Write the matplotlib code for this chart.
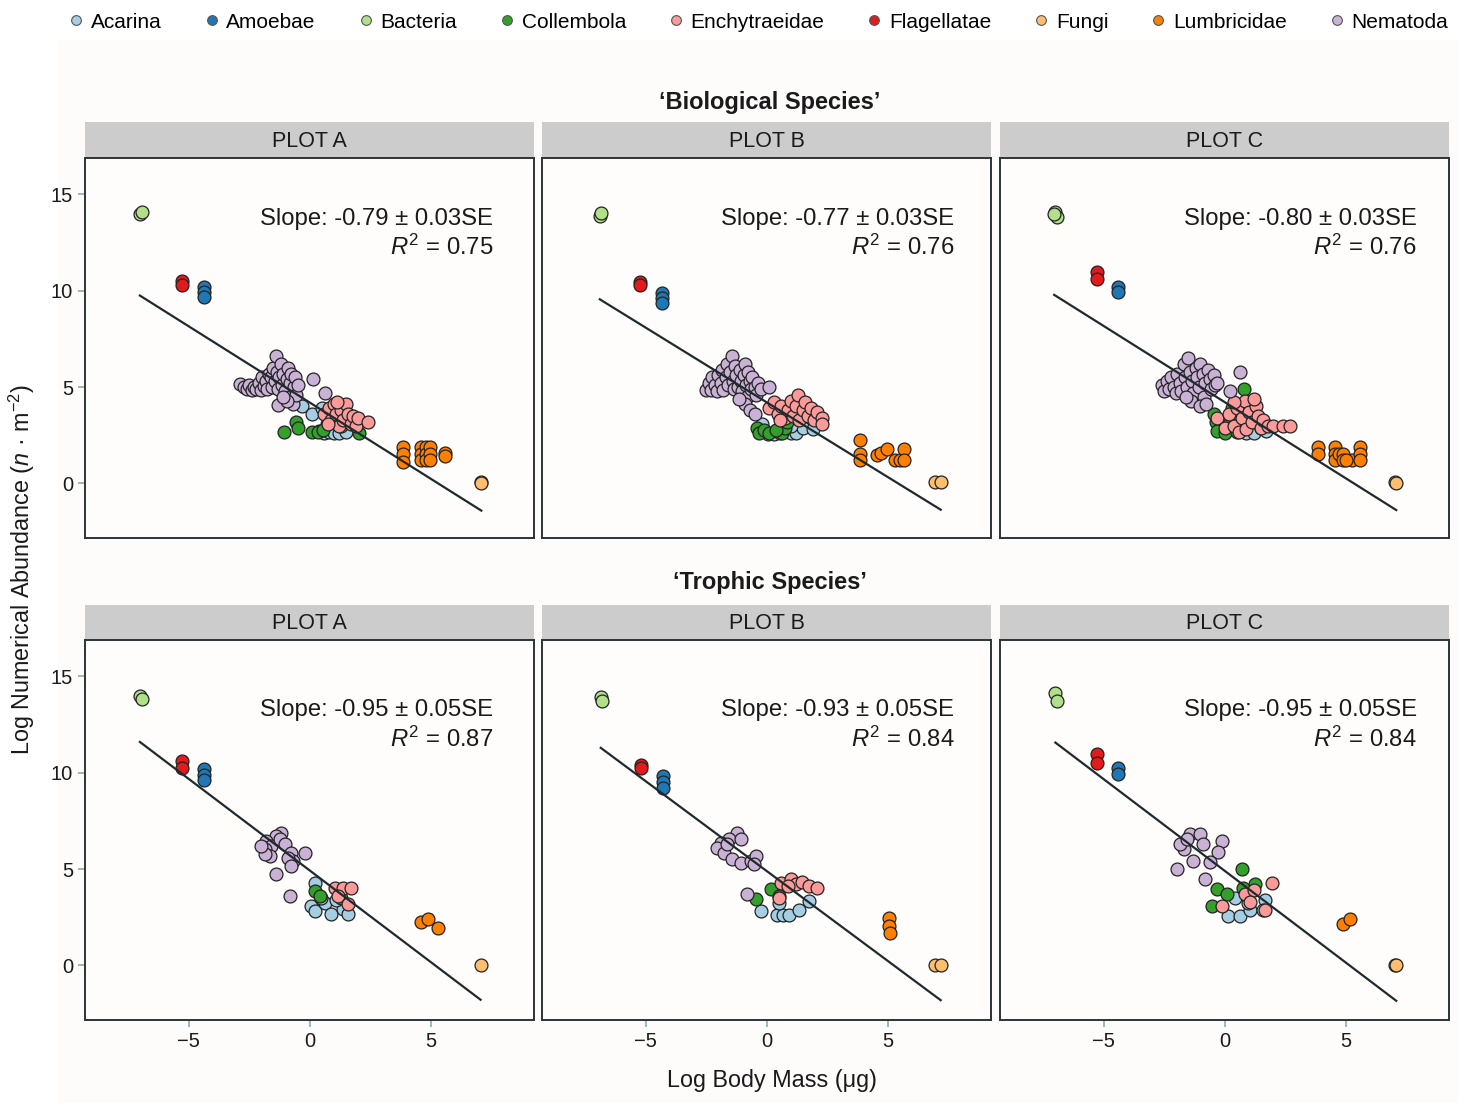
import matplotlib.pyplot as plt
from matplotlib.lines import Line2D
from matplotlib.patches import Rectangle

plt.rcParams['font.family'] = ['Liberation Sans', 'DejaVu Sans']
plt.rcParams['mathtext.fontset'] = 'custom'
plt.rcParams['mathtext.rm'] = 'Liberation Sans'
plt.rcParams['mathtext.it'] = 'Liberation Sans:italic'

groups = ["Acarina", "Amoebae", "Bacteria", "Collembola", "Enchytraeidae",
          "Flagellatae", "Fungi", "Lumbricidae", "Nematoda"]
colors = ["#A6CEE3", "#1F78B4", "#B2DF8A", "#33A02C", "#FB9A99",
          "#E31A1C", "#FDBF6F", "#FF7F00", "#CAB2D6"]
plot_names = ["PLOT A", "PLOT B", "PLOT C"]
row_titles = ["\u2018Biological Species\u2019", "\u2018Trophic Species\u2019"]

# ---- data (log body mass, log abundance) ----
bio_a = {
    "Acarina": [(-0.3, 4.0), (0.1, 3.6), (0.4, 2.7), (0.6, 2.6), (0.8, 2.65), (1.0, 2.6),
                (1.2, 2.6), (1.5, 2.65), (0.9, 3.2), (1.3, 3.0), (0.5, 3.9)],
    "Amoebae": [(-4.37, 10.2), (-4.37, 9.93), (-4.37, 9.65)],
    "Bacteria": [(-7.02, 13.97), (-6.95, 14.08)],
    "Collembola": [(-1.05, 2.65), (-0.55, 3.2), (-0.5, 2.9), (0.1, 2.65), (0.35, 2.65),
                   (0.7, 3.1), (2.05, 2.6), (0.55, 2.75)],
    "Enchytraeidae": [(0.6, 3.6), (0.8, 3.9), (0.9, 3.3), (1.0, 4.1), (1.1, 3.6), (1.2, 3.0),
                      (1.3, 3.8), (1.4, 3.3), (1.5, 4.1), (1.6, 3.6), (1.7, 3.1), (1.8, 3.5),
                      (1.9, 3.0), (2.0, 3.4), (2.4, 3.2), (1.15, 4.2), (0.75, 3.1)],
    "Flagellatae": [(-5.28, 10.5), (-5.28, 10.3)],
    "Fungi": [(7.07, 0.05), (7.1, 0.0)],
    "Lumbricidae": [(3.86, 1.88), (3.86, 1.54), (3.86, 1.1), (4.6, 1.88), (4.6, 1.54), (4.6, 1.2),
                    (4.8, 1.88), (4.8, 1.54), (4.8, 1.2), (4.96, 1.88), (4.96, 1.54), (4.96, 1.2),
                    (5.58, 1.6), (5.58, 1.4)],
    "Nematoda": [(-2.9, 5.15), (-2.7, 5.0), (-2.6, 4.9), (-2.5, 5.1), (-2.4, 4.85), (-2.3, 5.0),
                 (-2.2, 4.9), (-2.1, 5.2), (-2.0, 4.85), (-1.95, 5.5), (-1.9, 5.05), (-1.8, 5.3),
                 (-1.75, 4.9), (-1.7, 5.7), (-1.6, 5.5), (-1.55, 5.0), (-1.5, 6.0), (-1.45, 5.3),
                 (-1.4, 6.6), (-1.35, 5.8), (-1.3, 4.9), (-1.25, 5.5), (-1.2, 6.2), (-1.15, 5.1),
                 (-1.1, 5.7), (-1.0, 4.8), (-0.95, 5.4), (-0.9, 6.0), (-0.85, 4.5), (-0.8, 5.2),
                 (-0.75, 5.7), (-0.7, 4.1), (-0.65, 5.0), (-0.6, 5.5), (-0.55, 4.6), (-0.5, 5.1),
                 (-1.3, 4.05), (-0.95, 4.3), (0.15, 5.4), (-1.1, 4.5), (0.65, 4.7)],
}
bio_b = {
    "Acarina": [(-0.2, 3.1), (0.05, 2.55), (0.3, 2.55), (0.55, 2.6), (1.0, 2.6), (1.2, 2.6),
                (1.5, 2.9), (1.9, 2.8), (1.0, 3.0)],
    "Amoebae": [(-4.31, 9.9), (-4.31, 9.6), (-4.31, 9.35)],
    "Bacteria": [(-6.9, 13.85), (-6.85, 14.05)],
    "Collembola": [(-0.4, 2.9), (-0.3, 2.6), (-0.1, 2.75), (0.1, 2.6), (0.65, 2.6), (0.75, 2.9),
                   (0.85, 3.2), (0.4, 2.75)],
    "Enchytraeidae": [(0.1, 3.9), (0.3, 4.2), (0.45, 3.6), (0.6, 4.0), (0.75, 3.4), (0.9, 3.8),
                      (1.0, 4.3), (1.1, 3.5), (1.2, 4.0), (1.3, 4.6), (1.35, 3.3), (1.5, 3.8),
                      (1.6, 4.2), (1.7, 3.5), (1.85, 3.9), (1.95, 3.3), (2.1, 3.7), (2.3, 3.4),
                      (2.3, 3.1), (0.55, 3.3)],
    "Flagellatae": [(-5.23, 10.45), (-5.23, 10.3)],
    "Fungi": [(6.95, 0.05), (7.2, 0.05)],
    "Lumbricidae": [(3.88, 2.23), (3.88, 1.55), (3.88, 1.19), (4.57, 1.45), (4.75, 1.6),
                    (4.99, 1.8), (5.33, 1.19), (5.5, 1.19), (5.67, 1.8), (5.67, 1.19)],
    "Nematoda": [(-2.5, 4.85), (-2.4, 5.2), (-2.3, 4.85), (-2.25, 5.5), (-2.15, 5.1), (-2.05, 4.8),
                 (-2.0, 5.6), (-1.9, 5.2), (-1.85, 5.9), (-1.8, 4.85), (-1.7, 5.5), (-1.65, 6.2),
                 (-1.6, 5.1), (-1.5, 5.8), (-1.45, 6.6), (-1.4, 5.3), (-1.35, 4.9), (-1.3, 6.1),
                 (-1.25, 5.6), (-1.2, 5.0), (-1.1, 5.9), (-1.05, 5.3), (-1.0, 4.8), (-0.95, 5.6),
                 (-0.9, 6.2), (-0.85, 5.1), (-0.8, 4.5), (-0.75, 5.8), (-0.7, 5.3), (-0.65, 4.9),
                 (-0.6, 5.5), (-0.5, 5.0), (-0.45, 4.6), (-0.35, 5.2), (-0.25, 4.9), (0.1, 5.0),
                 (-0.9, 4.1), (-0.7, 3.8), (-0.5, 3.6), (-1.15, 4.4)],
}
bio_c = {
    "Acarina": [(0.9, 2.6), (1.2, 2.6), (1.5, 2.9), (1.7, 2.7)],
    "Amoebae": [(-4.39, 10.2), (-4.39, 9.94)],
    "Bacteria": [(-7.0, 14.1), (-6.95, 13.8), (-7.05, 13.95)],
    "Collembola": [(0.8, 4.9), (-0.45, 3.6), (-0.35, 3.2), (-0.3, 2.7), (0.0, 2.6), (0.2, 3.1),
                   (0.5, 2.65), (0.6, 3.5), (0.85, 3.8), (1.1, 3.3), (0.3, 3.9)],
    "Enchytraeidae": [(-0.3, 3.4), (0.0, 2.9), (0.2, 3.6), (0.4, 3.0), (0.5, 3.9), (0.6, 2.65),
                      (0.7, 3.4), (0.85, 4.3), (0.9, 2.8), (1.0, 3.7), (1.15, 3.2), (1.3, 4.0),
                      (1.4, 3.5), (1.5, 2.9), (1.6, 3.3), (1.8, 3.0), (2.0, 3.0), (2.43, 3.0),
                      (2.7, 3.0), (1.2, 4.4), (0.4, 4.2)],
    "Flagellatae": [(-5.28, 10.95), (-5.28, 10.6)],
    "Fungi": [(7.05, 0.07), (7.1, 0.03)],
    "Lumbricidae": [(3.88, 1.88), (3.88, 1.54), (4.57, 1.88), (4.57, 1.54), (4.57, 1.2),
                    (4.75, 1.54), (4.91, 1.54), (4.91, 1.2), (5.26, 1.2), (5.6, 1.88),
                    (5.6, 1.54), (5.6, 1.2), (5.0, 1.2)],
    "Nematoda": [(-2.6, 5.1), (-2.5, 4.8), (-2.4, 5.3), (-2.3, 4.9), (-2.2, 5.5), (-2.1, 5.0),
                 (-2.0, 4.7), (-1.95, 5.7), (-1.85, 5.2), (-1.8, 4.8), (-1.7, 6.2), (-1.65, 5.5),
                 (-1.55, 5.0), (-1.5, 6.5), (-1.45, 5.8), (-1.35, 5.3), (-1.3, 4.7), (-1.2, 6.0),
                 (-1.15, 5.5), (-1.05, 5.0), (-1.0, 6.2), (-0.9, 5.7), (-0.85, 4.5), (-0.8, 5.2),
                 (-0.7, 5.9), (-0.6, 5.4), (-0.55, 4.9), (-0.45, 5.6), (-0.4, 5.1), (-1.4, 4.3),
                 (-1.0, 4.0), (-0.75, 4.1), (-1.6, 4.5), (0.64, 5.77), (0.23, 4.82), (-0.3, 5.2)],
}
tro_a = {
    "Acarina": [(0.21, 4.29), (0.07, 3.08), (0.21, 2.82), (0.62, 3.25), (0.9, 2.65), (1.38, 2.91),
                (1.58, 2.65), (1.1, 3.42), (0.48, 3.51)],
    "Amoebae": [(-4.37, 10.2), (-4.37, 9.9), (-4.37, 9.6)],
    "Bacteria": [(-7.02, 13.98), (-6.95, 13.8)],
    "Collembola": [(0.21, 3.86), (0.41, 3.6), (1.3, 3.5)],
    "Enchytraeidae": [(1.03, 4.03), (1.38, 4.03), (1.72, 4.03), (1.17, 3.6), (1.58, 3.17)],
    "Flagellatae": [(-5.28, 10.6), (-5.28, 10.26)],
    "Fungi": [(7.07, 0.0)],
    "Lumbricidae": [(4.61, 2.25), (4.89, 2.39), (5.3, 1.95)],
    "Nematoda": [(-1.17, 6.89), (-1.38, 6.71), (-1.79, 6.45), (-1.58, 6.19), (-1.86, 6.02),
                 (-1.24, 6.54), (-1.03, 6.28), (-1.65, 5.67), (-0.76, 5.85), (-0.69, 5.41),
                 (-0.21, 5.85), (-1.86, 5.76), (-1.38, 4.72), (-0.83, 3.6), (-0.9, 5.59),
                 (-2.0, 6.19), (-0.76, 5.15)],
}
tro_b = {
    "Acarina": [(-0.25, 2.82), (0.44, 2.6), (0.68, 2.6), (0.92, 2.6), (1.33, 2.9), (1.75, 3.34),
                (0.51, 3.25)],
    "Amoebae": [(-4.27, 9.82), (-4.27, 9.5), (-4.27, 9.22)],
    "Bacteria": [(-6.86, 13.9), (-6.8, 13.7)],
    "Collembola": [(0.17, 3.98), (-0.45, 3.46), (0.51, 3.6)],
    "Enchytraeidae": [(0.58, 4.3), (1.0, 4.46), (1.2, 4.2), (1.45, 4.35), (1.75, 4.1), (2.1, 4.03),
                      (0.51, 3.51), (0.9, 4.1)],
    "Flagellatae": [(-5.2, 10.4), (-5.2, 10.25)],
    "Fungi": [(6.95, 0.0), (7.2, 0.0)],
    "Lumbricidae": [(5.06, 2.45), (5.06, 2.05), (5.1, 1.7)],
    "Nematoda": [(-1.21, 6.89), (-1.56, 6.54), (-1.9, 6.37), (-1.07, 6.54), (-2.04, 6.11),
                 (-1.76, 5.85), (-1.42, 5.5), (-1.07, 5.33), (-0.66, 5.41), (-0.45, 5.67),
                 (-0.52, 5.24), (-1.62, 6.28), (-0.8, 3.68)],
}
tro_c = {
    "Acarina": [(0.43, 3.51), (0.16, 2.59), (0.64, 2.59), (1.05, 2.9), (1.67, 3.42), (1.6, 2.87),
                (0.98, 3.25)],
    "Amoebae": [(-4.39, 10.26), (-4.39, 9.95)],
    "Bacteria": [(-7.0, 14.15), (-6.95, 13.72)],
    "Collembola": [(0.71, 4.98), (-0.32, 3.94), (0.09, 3.68), (-0.53, 3.08), (1.26, 4.2),
                   (0.78, 4.03)],
    "Enchytraeidae": [(1.95, 4.29), (-0.12, 3.08), (0.85, 3.7), (1.2, 3.9), (1.65, 2.85),
                      (1.05, 3.3)],
    "Flagellatae": [(-5.28, 10.95), (-5.28, 10.5)],
    "Fungi": [(7.05, 0.0), (7.1, 0.0)],
    "Lumbricidae": [(4.91, 2.13), (5.19, 2.39)],
    "Nematoda": [(-1.43, 6.8), (-1.01, 6.8), (-0.88, 6.28), (-0.12, 6.45), (-1.7, 6.02),
                 (-0.26, 5.88), (-1.29, 5.41), (-0.6, 5.36), (-1.98, 4.98), (-0.81, 4.5),
                 (-1.84, 6.28), (-1.56, 6.54)],
}
panels = [[bio_a, bio_b, bio_c], [tro_a, tro_b, tro_c]]

# fitted lines: slope, intercept; reported slope text and R^2
slopes = [[-0.79, -0.774, -0.789], [-0.949, -0.931, -0.95]]
intercepts = [[4.2, 4.21, 4.22], [4.93, 4.9, 4.91]]
slope_txt = [["-0.79 \u00b1 0.03SE", "-0.77 \u00b1 0.03SE", "-0.80 \u00b1 0.03SE"],
             ["-0.95 \u00b1 0.05SE", "-0.93 \u00b1 0.05SE", "-0.95 \u00b1 0.05SE"]]
r2_txt = [["0.75", "0.76", "0.76"], ["0.87", "0.84", "0.84"]]

W, H = 1458, 1103
fig = plt.figure(figsize=(W / 100, H / 100), dpi=100)
fig.patch.set_facecolor("white")
fig.patches.append(Rectangle((58 / W, 0), 1 - 58 / W, 1 - 40 / H, transform=fig.transFigure,
                             facecolor="#fdfcfb", edgecolor="none", zorder=-10))


def box(l, t, r, b):
    return [l / W, 1 - b / H, (r - l) / W, (b - t) / H]


lefts = [85, 542, 1000]
rights = [534, 991, 1449]
tops = [158, 640]
strip_tops = [122, 605]
text_right = [7.6, 7.77, 7.95]

for r in range(2):
    for c in range(3):
        ax = fig.add_axes(box(lefts[c], tops[r], rights[c], tops[r] + 380))
        ax.set_facecolor("#fffdfc")
        data = panels[r][c]
        allx = []
        for g, col in zip(groups, colors):
            pts = data[g]
            xs = [p[0] for p in pts]
            ys = [p[1] for p in pts]
            allx += xs
            ax.scatter(xs, ys, s=86, color=col, edgecolors="#222222", linewidths=0.9, zorder=3)
        x0, x1 = min(allx), max(allx)
        ax.plot([x0, x1], [intercepts[r][c] + slopes[r][c] * x0, intercepts[r][c] + slopes[r][c] * x1],
                color="#1f2a2e", lw=1.6, zorder=4)
        ty = 13.73 if r == 0 else 13.23
        ax.text(text_right[c], ty, "Slope: " + slope_txt[r][c], ha="right", va="center",
                fontsize=17.2, color="#1a1a1a", zorder=5)
        ax.text(text_right[c], ty - 1.5, r"$\mathit{R}^{2}$ = " + r2_txt[r][c], ha="right",
                va="center", fontsize=17.2, color="#1a1a1a", zorder=5)
        ax.set_xlim(-9.29, 9.28)
        ax.set_ylim(-2.83, 16.88)
        ax.set_xticks([-5, 0, 5])
        ax.set_yticks([0, 5, 10, 15])
        ax.tick_params(colors="#8fa9b8", length=5, width=1.2, labelsize=14.5, labelcolor="#1a1a1a")
        if c != 0:
            ax.tick_params(axis="y", left=False, labelleft=False)
        if r != 1:
            ax.tick_params(axis="x", bottom=False, labelbottom=False)
        for sp in ax.spines.values():
            sp.set_color("#2b3538")
            sp.set_linewidth(1.4)

        sax = fig.add_axes(box(lefts[c], strip_tops[r], rights[c], tops[r] - 1))
        sax.set_facecolor("#cccccc")
        sax.set_xticks([])
        sax.set_yticks([])
        for sp in sax.spines.values():
            sp.set_visible(False)
        sax.text(0.5, 0.45, plot_names[c], ha="center", va="center", fontsize=15.5,
                 color="#1a1a1a", transform=sax.transAxes)

fig.text(770 / W, 1 - 102 / H, row_titles[0], ha="center", va="center", fontsize=17,
         fontweight="bold", color="#1a1a1a")
fig.text(770 / W, 1 - 583 / H, row_titles[1], ha="center", va="center", fontsize=17,
         fontweight="bold", color="#1a1a1a")
fig.text(772 / W, 1 - 1081 / H, "Log Body Mass (\u03bcg)", ha="center", va="center",
         fontsize=16.8, color="#1a1a1a")
fig.text(22 / W, 1 - 570 / H, "Log Numerical Abundance ($\\mathit{n}$ \u00b7 m$^{-2}$)",
         ha="center", va="center", rotation=90, fontsize=16.8, color="#1a1a1a")

handles = [Line2D([], [], marker="o", ls="none", markersize=7, markerfacecolor=col,
                  markeredgecolor="#555555", markeredgewidth=0.8, label=g)
           for g, col in zip(groups, colors)]
fig.legend(handles=handles, loc="center", bbox_to_anchor=(757 / W, 1 - 22 / H), ncol=9,
           frameon=False, fontsize=15, handletextpad=0.2, columnspacing=1.9,
           handlelength=1.0, borderaxespad=0)

fig.savefig("out.png", dpi=100)
